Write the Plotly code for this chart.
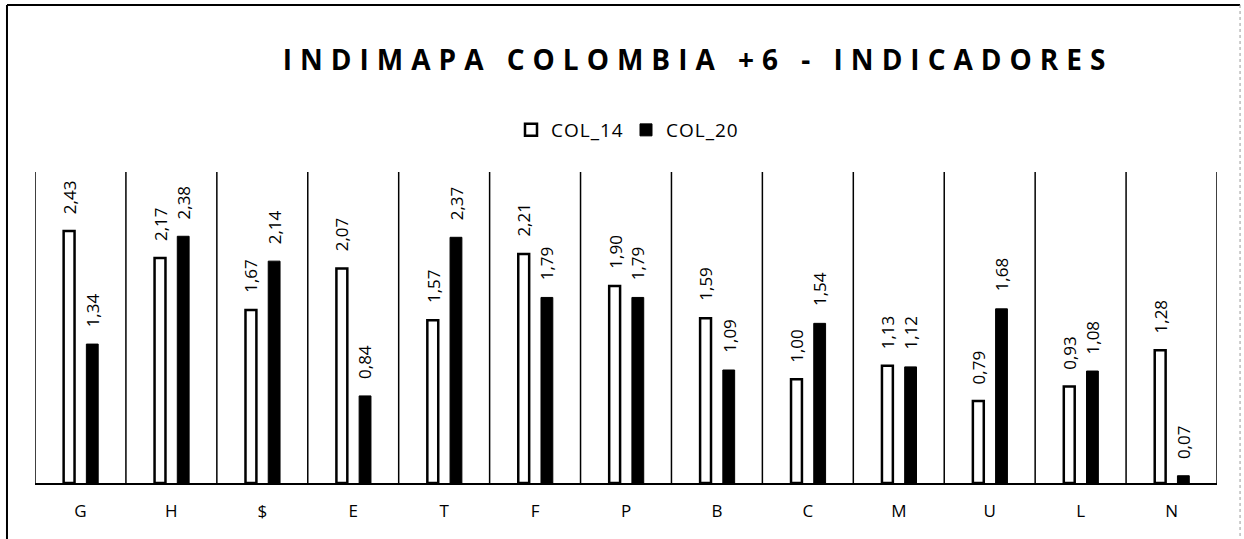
import plotly.graph_objects as go

categories = ["G", "H", "$", "E", "T", "F", "P", "B", "C", "M", "U", "L", "N"]
col_14 = [2.43, 2.17, 1.67, 2.07, 1.57, 2.21, 1.90, 1.59, 1.00, 1.13, 0.79, 0.93, 1.28]
col_20 = [1.34, 2.38, 2.14, 0.84, 2.37, 1.79, 1.79, 1.09, 1.54, 1.12, 1.68, 1.08, 0.07]
series_names = ["COL_14", "COL_20"]
title_text = "INDIMAPA COLOMBIA +6 - INDICADORES"

FONT = "Open Sans"

def fmt(v):
    return f"{v:.2f}".replace(".", ",")

fig = go.Figure()
fig.add_trace(go.Bar(
    x=categories, y=col_14, name=series_names[0],
    marker=dict(color="white", line=dict(color="black", width=2.5)),
    width=0.12, offset=-0.185,
))
fig.add_trace(go.Bar(
    x=categories, y=col_20, name=series_names[1],
    marker=dict(color="black", line=dict(color="black", width=1)),
    width=0.13, offset=0.065,
))

annotations = []
for i, (a, b) in enumerate(zip(col_14, col_20)):
    annotations.append(dict(x=i - 0.125, y=a, xref="x", yref="y", text=fmt(a),
                            textangle=-90, showarrow=False, yanchor="bottom",
                            xanchor="center", yshift=15,
                            font=dict(family=FONT, size=17, color="black")))
    annotations.append(dict(x=i + 0.13, y=b, xref="x", yref="y", text=fmt(b),
                            textangle=-90, showarrow=False, yanchor="bottom",
                            xanchor="center", yshift=15,
                            font=dict(family=FONT, size=17, color="black")))

shapes = []
for i in range(len(categories) + 1):
    shapes.append(dict(type="line", xref="x", yref="y", x0=i - 0.5, x1=i - 0.5,
                       y0=0, y1=3, line=dict(color="black", width=1.5), layer="below"))
# chart frame
shapes.append(dict(type="line", xref="paper", yref="paper", x0=-0.0237, x1=1.0195,
                   y0=1.537, y1=1.537, line=dict(color="black", width=2)))
shapes.append(dict(type="line", xref="paper", yref="paper", x0=-0.0237, x1=-0.0237,
                   y0=1.537, y1=-0.2, line=dict(color="black", width=2)))
shapes.append(dict(type="line", xref="paper", yref="paper", x0=1.0195, x1=1.0195,
                   y0=1.537, y1=-0.2, line=dict(color="#999999", width=1, dash="dot")))

fig.update_layout(
    width=1244, height=539,
    margin=dict(l=35, r=27, t=172, b=56),
    paper_bgcolor="white", plot_bgcolor="white",
    barmode="group",
    showlegend=True,
    legend=dict(orientation="h", x=0.5, xanchor="center", y=1.135, yanchor="middle",
                font=dict(family=FONT, size=19, color="black"), itemwidth=30,
                entrywidth=70, entrywidthmode="pixels",
                traceorder="normal"),
    title=dict(text="<b>" + title_text + "</b>", x=0.561, xref="paper", xanchor="center",
               y=1 - 60 / 539, yref="container", yanchor="middle",
               font=dict(family=FONT, size=28, color="black")),
    xaxis=dict(type="category", showline=True, linecolor="black", linewidth=1.5,
               ticks="", showgrid=False, range=[-0.5, 12.5], ticklabelstandoff=12,
               tickfont=dict(family=FONT, size=17, color="black")),
    yaxis=dict(range=[0, 3], visible=False, showgrid=False),
    annotations=annotations,
    shapes=shapes,
)

post = """
document.body.style.margin = '0';
document.querySelectorAll('.gtitle').forEach(function(e){ e.style.letterSpacing = '8px'; });
document.querySelectorAll('.legendtext').forEach(function(e){ e.style.letterSpacing = '1px'; });
"""

fig.write_html("out.html", post_script=post, config={"displayModeBar": False})
